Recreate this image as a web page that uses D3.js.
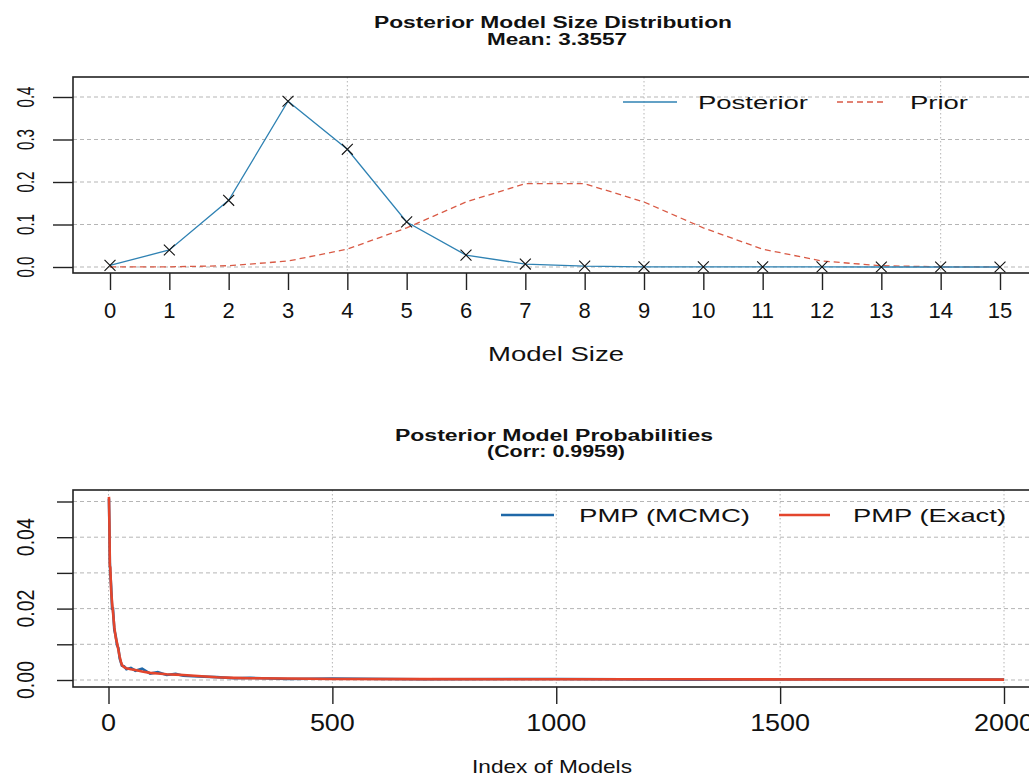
<!doctype html>
<html>
<head>
<meta charset="utf-8">
<script src="https://d3js.org/d3.v7.min.js"></script>
<style>
  body { margin: 0; background: #fff; }
  text { font-family: "Liberation Sans", Arial, sans-serif; fill: #111; }
  .domain { display: none; }
</style>
</head>
<body>
<svg width="1029" height="778"></svg>
<script>
// ---- top panel: model size distribution
var modelSizes = [0, 1, 2, 3, 4, 5, 6, 7, 8, 9, 10, 11, 12, 13, 14, 15];
var posterior = [0.004, 0.040, 0.157, 0.390, 0.277, 0.106, 0.028, 0.007, 0.002, 0.0005, 0.0002, 0.0001, 0.0001, 0, 0, 0];
var prior = [0.00003, 0.0005, 0.003, 0.014, 0.042, 0.092, 0.153, 0.196, 0.196, 0.153, 0.092, 0.042, 0.014, 0.003, 0.0005, 0.00003];
var sizeYTicks = [0, 0.1, 0.2, 0.3, 0.4];
var sizeGridX = [4, 9, 14];

// ---- bottom panel: posterior model probabilities (sorted)
var modelIndex = [1, 2, 3, 4, 6, 8, 10, 13, 16, 19, 22, 25, 28, 30, 35, 40, 50, 60, 75, 93, 110, 130, 150, 167, 200, 242, 280, 317, 400, 500, 700, 1000, 1300, 1600, 2000];
var pmpExact = [0.0513, 0.044, 0.0320, 0.0315, 0.025, 0.0216, 0.019, 0.0148, 0.012, 0.0104, 0.0085, 0.0065, 0.0050, 0.0042, 0.0036, 0.0033, 0.0030, 0.0028, 0.0024, 0.0020, 0.0018, 0.0016, 0.0015, 0.0014, 0.0011, 0.00075, 0.0006, 0.0005, 0.0004, 0.0003, 0.00025, 0.0002, 0.0002, 0.00015, 0.0001];
var pmpMcmc = [0.0508, 0.043, 0.0330, 0.0300, 0.0260, 0.0200, 0.0200, 0.0140, 0.0125, 0.0098, 0.0090, 0.0060, 0.0048, 0.0040, 0.0038, 0.0030, 0.0034, 0.0026, 0.0032, 0.0018, 0.0022, 0.0014, 0.0017, 0.0012, 0.0010, 0.0008, 0.0005, 0.0006, 0.0003, 0.0004, 0.0002, 0.0003, 0.0001, 0.0002, 0.0001];
var pmpYTicks = [0, 0.01, 0.02, 0.03, 0.04, 0.05];
var pmpYLabels = ["0.00", "", "0.02", "", "0.04", ""];
var indexTicks = [0, 500, 1000, 1500, 2000];

var blue = "#2f82b3", red = "#d95a45", pmpBlue = "#1f68a8", pmpRed = "#e3452c";

var svg = d3.select("svg");

function frame(x0, y0, x1, y1) {
  svg.append("rect")
    .attr("x", x0).attr("y", y0)
    .attr("width", x1 - x0).attr("height", y1 - y0)
    .attr("fill", "none").attr("stroke", "#222").attr("stroke-width", 1.6);
}

function hgrid(vals, y, x0, x1) {
  svg.append("g").selectAll("line").data(vals).enter().append("line")
    .attr("x1", x0).attr("x2", x1)
    .attr("y1", function(d) { return y(d); }).attr("y2", function(d) { return y(d); })
    .attr("stroke", "#b5b5b5").attr("stroke-width", 1).attr("stroke-dasharray", "4,3");
}

function vgrid(vals, x, y0, y1) {
  svg.append("g").selectAll("line").data(vals).enter().append("line")
    .attr("x1", function(d) { return x(d); }).attr("x2", function(d) { return x(d); })
    .attr("y1", y0).attr("y2", y1)
    .attr("stroke", "#b5b5b5").attr("stroke-width", 1).attr("stroke-dasharray", "1.5,2.5");
}

// rotated y tick labels, squeezed along the text direction
function yLabels(vals, labels, y, size, len) {
  vals.forEach(function(v, i) {
    if (!labels[i]) return;
    svg.append("text")
      .attr("transform", "translate(25," + y(v) + ") rotate(-90)")
      .attr("text-anchor", "middle").attr("dy", "0.36em")
      .attr("font-size", size + "px")
      .attr("textLength", len)
      .attr("lengthAdjust", "spacingAndGlyphs")
      .text(labels[i]);
  });
}

function wideText(x, y, str, size, len, anchor, bold) {
  var t = svg.append("text")
    .attr("x", x).attr("y", y)
    .attr("font-size", size + "px")
    .attr("text-anchor", anchor)
    .attr("textLength", len).attr("lengthAdjust", "spacingAndGlyphs")
    .text(str);
  if (bold) t.attr("font-weight", "bold");
  return t;
}

// ================= TOP PANEL =================
var L = 73, R1 = 1037, T1 = 77, B1 = 273;
var x1 = d3.scaleLinear().domain([0, 15]).range([110, 1000]);
var y1 = d3.scaleLinear().domain([0, 0.4]).range([267, 97]);

hgrid(sizeYTicks, y1, L, R1);
vgrid(sizeGridX, x1, T1, B1);

svg.append("path")
  .datum(modelSizes)
  .attr("fill", "none").attr("stroke", red).attr("stroke-width", 1.3)
  .attr("stroke-dasharray", "6,4")
  .attr("d", d3.line().x(function(d) { return x1(d); }).y(function(d, i) { return y1(prior[i]); }));

svg.append("path")
  .datum(modelSizes)
  .attr("fill", "none").attr("stroke", blue).attr("stroke-width", 1.3)
  .attr("d", d3.line().x(function(d) { return x1(d); }).y(function(d, i) { return y1(posterior[i]); }));

svg.append("g").selectAll("path").data(modelSizes).enter().append("path")
  .attr("transform", function(d, i) { return "translate(" + x1(d) + "," + y1(posterior[i]) + ")"; })
  .attr("d", d3.symbol().type(d3.symbolX).size(80))
  .attr("fill", "none").attr("stroke", "#111").attr("stroke-width", 1.1);

frame(L, T1, R1, B1);

var xAxis1 = svg.append("g")
  .attr("transform", "translate(0," + B1 + ")")
  .call(d3.axisBottom(x1).tickValues(modelSizes).tickSize(17).tickPadding(0).tickFormat(""));
xAxis1.selectAll("line").attr("stroke", "#222").attr("stroke-width", 1.4);
svg.append("g").selectAll("text").data(modelSizes).enter().append("text")
  .attr("x", function(d) { return x1(d); }).attr("y", 318)
  .attr("text-anchor", "middle").attr("font-size", "22px").attr("fill", "#222")
  .text(function(d) { return d; });

var yAxis1 = svg.append("g")
  .attr("transform", "translate(" + L + ",0)")
  .call(d3.axisLeft(y1).tickValues(sizeYTicks).tickSize(20).tickFormat(""));
yAxis1.selectAll("line").attr("stroke", "#222").attr("stroke-width", 1.4);
yLabels(sizeYTicks, sizeYTicks.map(function(d) { return d3.format(".1f")(d); }), y1, 24, 21);

wideText(556, 361, "Model Size", 19.5, 136, "middle");

wideText(553, 28, "Posterior Model Size Distribution", 16, 358, "middle", true);
wideText(557, 45, "Mean: 3.3557", 16, 140, "middle", true);

// legend
svg.append("line").attr("x1", 623).attr("x2", 677).attr("y1", 102).attr("y2", 102)
  .attr("stroke", blue).attr("stroke-width", 1.3);
wideText(698, 109, "Posterior", 18, 110, "start");
svg.append("line").attr("x1", 837).attr("x2", 885).attr("y1", 102).attr("y2", 102)
  .attr("stroke", red).attr("stroke-width", 1.3).attr("stroke-dasharray", "6,4");
wideText(910, 109, "Prior", 18, 58, "start");

// ================= BOTTOM PANEL =================
var T2 = 490, B2 = 687, R2 = 1041;
var x2 = d3.scaleLinear().domain([0, 2000]).range([108.5, 1004]);
var y2 = d3.scaleLinear().domain([0, 0.05]).range([680, 501.5]);

hgrid(pmpYTicks, y2, L, R2);
vgrid(indexTicks, x2, T2, B2);

svg.append("path")
  .datum(modelIndex)
  .attr("fill", "none").attr("stroke", pmpBlue).attr("stroke-width", 2.6)
  .attr("d", d3.line().x(function(d) { return x2(d); }).y(function(d, i) { return y2(pmpMcmc[i]); }));

svg.append("path")
  .datum(modelIndex)
  .attr("fill", "none").attr("stroke", pmpRed).attr("stroke-width", 2.6)
  .attr("d", d3.line().x(function(d) { return x2(d); }).y(function(d, i) { return y2(pmpExact[i]); }));

frame(L, T2, R2, B2);

var xAxis2 = svg.append("g")
  .attr("transform", "translate(0," + B2 + ")")
  .call(d3.axisBottom(x2).tickValues(indexTicks).tickSize(17).tickFormat(""));
xAxis2.selectAll("line").attr("stroke", "#222").attr("stroke-width", 1.4);
svg.append("g").selectAll("text").data(indexTicks).enter().append("text")
  .attr("x", function(d) { return x2(d); }).attr("y", 731)
  .attr("text-anchor", "middle").attr("font-size", "23px").attr("fill", "#222")
  .attr("textLength", function(d) { return String(d).length * 15; })
  .attr("lengthAdjust", "spacingAndGlyphs")
  .text(function(d) { return d; });

var yAxis2 = svg.append("g")
  .attr("transform", "translate(" + L + ",0)")
  .call(d3.axisLeft(y2).tickValues(pmpYTicks).tickSize(16).tickFormat(""));
yAxis2.selectAll("line").attr("stroke", "#222").attr("stroke-width", 1.4);
yLabels(pmpYTicks, pmpYLabels, y2, 24, 38);

wideText(552, 773, "Index of Models", 19, 160, "middle");

wideText(554, 441, "Posterior Model Probabilities", 16, 318, "middle", true);
wideText(556, 457, "(Corr: 0.9959)", 16, 138, "middle", true);

// legend
svg.append("line").attr("x1", 501).attr("x2", 554).attr("y1", 515).attr("y2", 515)
  .attr("stroke", pmpBlue).attr("stroke-width", 2.6);
wideText(579, 522, "PMP (MCMC)", 19, 171, "start");
svg.append("line").attr("x1", 779).attr("x2", 830).attr("y1", 515).attr("y2", 515)
  .attr("stroke", pmpRed).attr("stroke-width", 2.6);
wideText(853, 522, "PMP (Exact)", 19, 153, "start");
</script>
</body>
</html>
